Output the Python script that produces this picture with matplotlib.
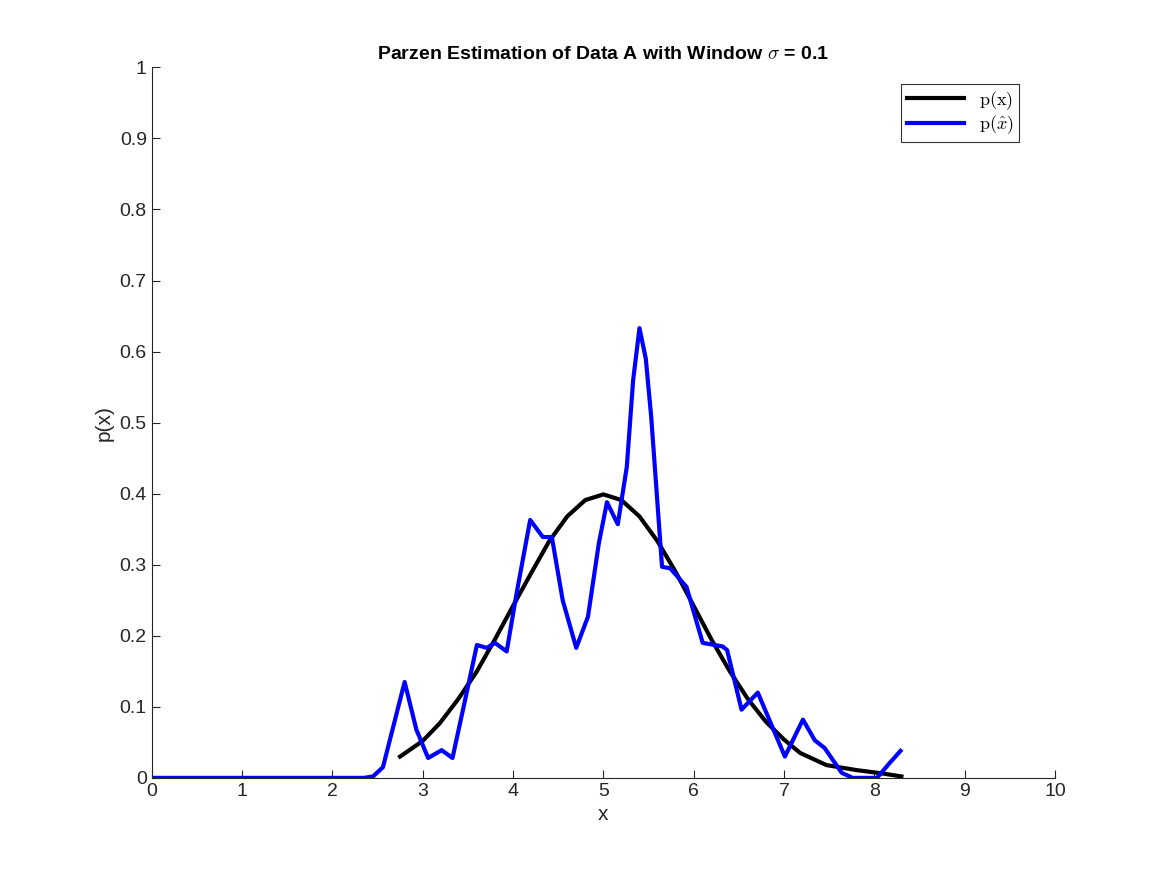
import matplotlib
matplotlib.use('Agg')
import matplotlib.pyplot as plt

# true density, sampled at the data points
true_x = [2.75, 3.0, 3.19, 3.4, 3.6, 3.8, 4.0, 4.2, 4.4, 4.6, 4.8, 5.0, 5.2, 5.4, 5.6, 5.8,
          6.0, 6.2, 6.4, 6.6, 6.8, 7.0, 7.18, 7.47, 7.8, 8.1, 8.30]
true_y = [0.030, 0.052, 0.077, 0.112, 0.150, 0.195, 0.242, 0.288, 0.333, 0.368, 0.391, 0.399,
          0.391, 0.368, 0.333, 0.290, 0.242, 0.194, 0.150, 0.111, 0.079, 0.054, 0.035, 0.018,
          0.011, 0.006, 0.002]

# parzen estimate
est_x = [0.0, 1.0, 2.0, 2.35, 2.45, 2.56, 2.68, 2.80, 2.93, 3.06, 3.21, 3.33, 3.47, 3.60, 3.71,
         3.80, 3.93, 4.04, 4.19, 4.33, 4.43, 4.55, 4.70, 4.83, 4.95, 5.04, 5.16, 5.26, 5.33,
         5.40, 5.47, 5.53, 5.65, 5.74, 5.92, 6.10, 6.32, 6.37, 6.53, 6.71, 6.87, 7.01, 7.21,
         7.34, 7.45, 7.64, 7.76, 8.03, 8.17, 8.29]
est_y = [0.0, 0.0, 0.0, 0.0, 0.002, 0.015, 0.075, 0.135, 0.068, 0.028, 0.039, 0.028, 0.110,
         0.187, 0.183, 0.190, 0.178, 0.260, 0.363, 0.339, 0.339, 0.250, 0.183, 0.227, 0.330,
         0.388, 0.357, 0.438, 0.560, 0.633, 0.590, 0.508, 0.297, 0.295, 0.269, 0.190, 0.185,
         0.180, 0.096, 0.120, 0.072, 0.030, 0.082, 0.053, 0.042, 0.007, 0.0, 0.0, 0.021, 0.038]

plt.rcParams['font.family'] = 'Liberation Sans'
plt.rcParams['mathtext.fontset'] = 'cm'

fig = plt.figure(figsize=(11.67, 8.75), dpi=100)
ax = fig.add_axes([0.130, 0.111, 0.774, 0.812])

ax.plot(true_x, true_y, color='black', lw=3, label=r'$\mathrm{p(x)}$')
ax.plot(est_x, est_y, color='#0000ff', lw=3, label=r'$\mathrm{p}(\hat{x})$')

ax.set_xlim(0, 10)
ax.set_ylim(0, 1)
ax.set_xticks(range(0, 11))
ax.set_yticks([i / 10 for i in range(11)])
ax.set_yticklabels(['0'] + ['%.1f' % (i / 10) for i in range(1, 10)] + ['1'])
ax.tick_params(direction='in', labelsize=14, colors='#262626', length=6)
for s in ['top', 'right']:
    ax.spines[s].set_visible(False)
for s in ['left', 'bottom']:
    ax.spines[s].set_color('#262626')

ax.set_xlabel('x', fontsize=15, color='#262626')
ax.set_ylabel('p(x)', fontsize=15, color='#262626')
ax.set_title(r'Parzen Estimation of Data A with Window $\sigma$ = 0.1', fontsize=14,
             fontweight='bold')

leg = ax.legend(loc='upper right', fontsize=13, fancybox=False, edgecolor='black',
                handlelength=3.2, borderpad=0.3, labelspacing=0.1, bbox_to_anchor=(0.97, 0.99))
leg.get_frame().set_linewidth(0.8)

fig.savefig('out.png', dpi=100)
